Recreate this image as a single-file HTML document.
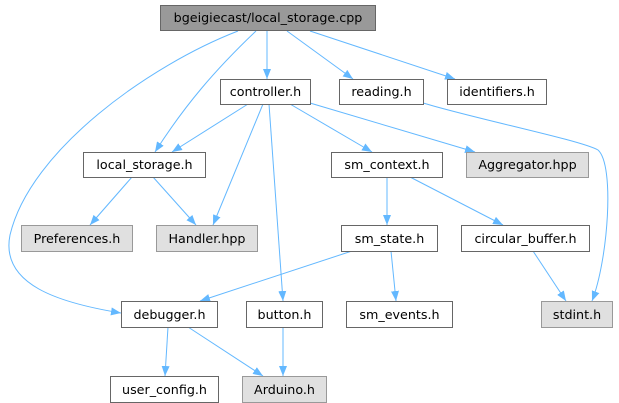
<!DOCTYPE html>
<html><head><meta charset="utf-8"><style>
html,body{margin:0;padding:0;background:#fff;}
svg{display:block;}
text{font-family:"DejaVu Sans","Liberation Sans",sans-serif;font-size:12.7px;fill:#000;}
</style></head><body>
<svg width="619" height="403" viewBox="0 0 619 403" xmlns="http://www.w3.org/2000/svg">
<defs>
<marker id="a" markerWidth="10" markerHeight="8" refX="10" refY="4" orient="auto" markerUnits="userSpaceOnUse">
<path d="M0,0 L10,4 L0,8 Z" fill="#63b8ff"/>
</marker>
</defs>
<g fill="none" stroke="#63b8ff" stroke-width="1" marker-end="url(#a)">
<path d="M267,31 L267,79"/>
<path d="M287,31 L353,79"/>
<path d="M310,31 L455,79"/>
<path d="M256,31 C215,70 185,105 155,152"/>
<path d="M238,31 C150,65 30,150 10,235 C0,285 60,303 121,313"/>
<path d="M248,104 L172,152"/>
<path d="M263,104 L213,225"/>
<path d="M269,104 L283,301"/>
<path d="M290,104 L372,152"/>
<path d="M310,103 L475,152"/>
<path d="M423,103 C480,120 580,140 598,150 C615,165 608,260 592,301"/>
<path d="M132,177 L90,225"/>
<path d="M153,177 L196,225"/>
<path d="M387,177 L387,225"/>
<path d="M410,177 L503,225"/>
<path d="M352,251 L200,301"/>
<path d="M391,251 L396,301"/>
<path d="M533,251 L566,301"/>
<path d="M168,327 L165,376"/>
<path d="M188,327 L263,376"/>
<path d="M283,327 L283,376"/>
</g>
<g stroke-width="1">
<rect x="160.5" y="5.5" width="215" height="25" fill="#999" stroke="#666"/>
<rect x="220.5" y="79.5" width="90" height="25" fill="#fff" stroke="#666"/>
<rect x="339.5" y="79.5" width="84" height="25" fill="#fff" stroke="#666"/>
<rect x="447.5" y="79.5" width="99" height="25" fill="#fff" stroke="#666"/>
<rect x="83.5" y="152.5" width="122" height="25" fill="#fff" stroke="#666"/>
<rect x="331.5" y="152.5" width="111" height="25" fill="#fff" stroke="#666"/>
<rect x="466.5" y="152.5" width="122" height="25" fill="#e0e0e0" stroke="#999"/>
<rect x="21.5" y="225.5" width="111" height="26" fill="#e0e0e0" stroke="#999"/>
<rect x="156.5" y="225.5" width="101" height="26" fill="#e0e0e0" stroke="#999"/>
<rect x="341.5" y="225.5" width="96" height="26" fill="#fff" stroke="#666"/>
<rect x="461.5" y="225.5" width="128" height="26" fill="#fff" stroke="#666"/>
<rect x="121.5" y="301.5" width="96" height="26" fill="#fff" stroke="#666"/>
<rect x="246.5" y="301.5" width="76" height="26" fill="#fff" stroke="#666"/>
<rect x="346.5" y="301.5" width="106" height="26" fill="#fff" stroke="#666"/>
<rect x="541.5" y="301.5" width="71" height="26" fill="#e0e0e0" stroke="#999"/>
<rect x="110.5" y="376.5" width="108" height="26" fill="#fff" stroke="#666"/>
<rect x="242.5" y="376.5" width="84" height="26" fill="#e0e0e0" stroke="#999"/>
</g>
<g text-anchor="middle">
<text x="268" y="22">bgeigiecast/local_storage.cpp</text>
<text x="265.5" y="96">controller.h</text>
<text x="381.5" y="96">reading.h</text>
<text x="497" y="96">identifiers.h</text>
<text x="144.5" y="169">local_storage.h</text>
<text x="387" y="169">sm_context.h</text>
<text x="527.5" y="169">Aggregator.hpp</text>
<text x="77" y="243">Preferences.h</text>
<text x="207" y="243">Handler.hpp</text>
<text x="389.5" y="243">sm_state.h</text>
<text x="525.5" y="243">circular_buffer.h</text>
<text x="169.5" y="319">debugger.h</text>
<text x="284.5" y="319">button.h</text>
<text x="399.5" y="319">sm_events.h</text>
<text x="577" y="319">stdint.h</text>
<text x="164.5" y="394">user_config.h</text>
<text x="284.5" y="394">Arduino.h</text>
</g>
</svg>
</body></html>
